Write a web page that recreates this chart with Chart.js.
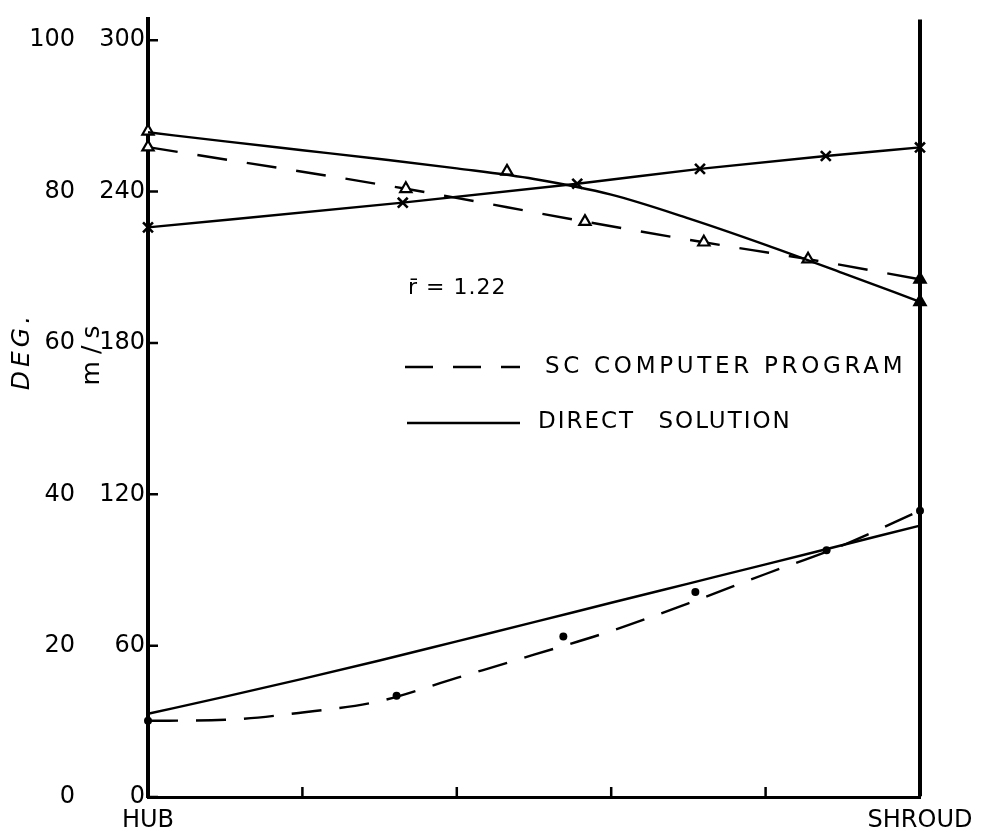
<!DOCTYPE html>
<html><head><meta charset="utf-8">
<script src="https://cdn.jsdelivr.net/npm/chart.js@4.4.0/dist/chart.umd.min.js"></script>
<style>html,body{margin:0;padding:0;background:#fff;}#wrap{width:986px;height:838px;position:relative;}</style>
</head><body><div id="wrap"><canvas id="c"></canvas></div>
<script>
// ---- data (x = fraction of span from HUB to SHROUD, y in m/s; DEG = m/s / 3) ----
const xTicks = [0, 0.2, 0.4, 0.6, 0.8, 1];
const xTickLabels = ['HUB', '', '', '', '', 'SHROUD'];
const msTicks = [0, 60, 120, 180, 240, 300];
const degTicks = [0, 20, 40, 60, 80, 100];

const curveX = [0, 0.1, 0.2, 0.3, 0.4, 0.5, 0.6, 0.7, 0.8, 0.9, 1];
const dsTop = [263.5, 259.9, 256.4, 252.9, 249.2, 245.0, 238.8, 229.4, 218.9, 207.7, 196.3];
const dsBottom = [33.0, 39.8, 46.8, 54.1, 61.7, 69.3, 77.0, 84.6, 92.2, 99.9, 107.6];
const scBottom = [30.2, 30.6, 33.5, 38.0, 47.2, 56.4, 65.8, 76.8, 88.4, 99.8, 113.5];

const scTopX = [0, 0.334, 0.566, 0.72, 0.855, 1];
const scTop = [257.6, 241.1, 228.1, 219.9, 213.2, 205.2];

const dsTriX = [0, 0.465, 1];
const dsTri = [263.9, 248.0, 196.3];

const crossX = [0, 0.33, 0.556, 0.715, 0.878, 1];
const crossY = [225.8, 235.6, 243.1, 249.0, 254.1, 257.5];

const dotX = [0, 0.322, 0.538, 0.709, 0.879, 1];
const dotY = [30.2, 40.1, 63.6, 81.3, 97.8, 113.5];

const rBarLabel = 'r\u0304 = 1.22';
const legendDashed = 'SC COMPUTER PROGRAM';
const legendSolid = 'DIRECT SOLUTION';
const degTitle = 'DEG.';
const msTitle = 'm/s';

// ---- chart ----
const FONT = '"DejaVu Sans", sans-serif';
const MS_MAX = 308.25;
const pts = (xs, ys) => xs.map((x, i) => ({x, y: ys[i]}));

const overlay = {
  id: 'overlay',
  afterDatasetsDraw(chart) {
    const ctx = chart.ctx, a = chart.chartArea;
    const ys = chart.scales.y, xs = chart.scales.x;
    ctx.save();
    ctx.strokeStyle = '#000';
    ctx.fillStyle = '#000';
    // inward tick marks
    ctx.lineWidth = 2.5;
    ctx.beginPath();
    msTicks.forEach(v => { const py = ys.getPixelForValue(v); ctx.moveTo(a.left, py); ctx.lineTo(a.left + 10, py); });
    xTicks.forEach(v => { const px = xs.getPixelForValue(v); ctx.moveTo(px, a.bottom); ctx.lineTo(px, a.bottom - 10); });
    ctx.stroke();
    // annotation
    ctx.textBaseline = 'middle';
    ctx.textAlign = 'left';
    ctx.font = '22px ' + FONT;
    ctx.letterSpacing = '1px';
    ctx.fillText(rBarLabel, 408, 288);
    // legend
    ctx.lineWidth = 2.4;
    ctx.setLineDash([28, 20]);
    ctx.beginPath(); ctx.moveTo(405, 367); ctx.lineTo(520, 367); ctx.stroke();
    ctx.setLineDash([]);
    ctx.beginPath(); ctx.moveTo(407, 423); ctx.lineTo(520, 423); ctx.stroke();
    ctx.font = '23px ' + FONT;
    ctx.letterSpacing = '3.7px';
    ctx.fillText(legendDashed, 545, 367);
    ctx.letterSpacing = '2px';
    ctx.wordSpacing = '14px';
    ctx.fillText(legendSolid, 538, 422);
    ctx.wordSpacing = '0px';
    // axis titles
    ctx.textAlign = 'center';
    ctx.save();
    ctx.translate(22, 351); ctx.rotate(-Math.PI / 2);
    ctx.font = 'italic 25px ' + FONT;
    ctx.letterSpacing = '4px';
    ctx.fillText(degTitle, 0, 0);
    ctx.restore();
    ctx.save();
    ctx.translate(92, 352); ctx.rotate(-Math.PI / 2);
    ctx.font = '25px ' + FONT;
    ctx.letterSpacing = '7px';
    ctx.fillText(msTitle, 0, 0);
    ctx.restore();
    ctx.letterSpacing = '0px';
    ctx.restore();
  }
};

const base = {borderColor: '#000', backgroundColor: '#000', borderWidth: 2.4, fill: false, clip: false};

new Chart(document.getElementById('c'), {
  type: 'line',
  data: {
    datasets: [
      Object.assign({}, base, {label: 'DS top', data: pts(curveX, dsTop), pointRadius: 0, cubicInterpolationMode: 'monotone'}),
      Object.assign({}, base, {label: 'SC top', data: pts(scTopX, scTop), borderDash: [30, 20], cubicInterpolationMode: 'monotone',
        pointStyle: 'triangle', pointRadius: 6.5, pointBorderWidth: 2.2,
        pointBackgroundColor: c => c.dataIndex === scTopX.length - 1 ? '#000' : '#fff'}),
      Object.assign({}, base, {label: 'DS top points', data: pts(dsTriX, dsTri), showLine: false,
        pointStyle: 'triangle', pointRadius: 6.5, pointBorderWidth: 2.2,
        pointBackgroundColor: c => c.dataIndex === dsTriX.length - 1 ? '#000' : '#fff'}),
      Object.assign({}, base, {label: 'DS cross', data: pts(crossX, crossY), cubicInterpolationMode: 'monotone',
        pointStyle: 'crossRot', pointRadius: 7, pointBorderWidth: 2.6}),
      Object.assign({}, base, {label: 'DS bottom', data: pts(curveX, dsBottom), pointRadius: 0, cubicInterpolationMode: 'monotone'}),
      Object.assign({}, base, {label: 'SC bottom', data: pts(curveX, scBottom), pointRadius: 0, borderDash: [30, 18], cubicInterpolationMode: 'monotone'}),
      Object.assign({}, base, {label: 'SC bottom points', data: pts(dotX, dotY), showLine: false,
        pointStyle: 'circle', pointRadius: 4, pointBorderWidth: 0})
    ]
  },
  options: {
    responsive: true, maintainAspectRatio: false, animation: false,
    layout: {padding: {left: 0, right: 66, top: 12, bottom: 0}},
    plugins: {legend: {display: false}, tooltip: {enabled: false}},
    scales: {
      x: {
        type: 'linear', min: 0, max: 1,
        afterBuildTicks: s => { s.ticks = xTicks.map(v => ({value: v})); },
        afterFit: s => { s.height = 41; },
        ticks: {autoSkip: false, maxRotation: 0, padding: 9, color: '#000',
          font: {family: FONT, size: 24},
          callback: (v, i) => xTickLabels[i]},
        border: {display: true, color: '#000', width: 3},
        grid: {drawTicks: false, drawOnChartArea: true,
          color: c => (c.tick && c.tick.value === 1) ? '#000' : 'rgba(0,0,0,0)',
          lineWidth: c => (c.tick && c.tick.value === 1) ? 4 : 1}
      },
      y: {
        type: 'linear', position: 'left', weight: 0, min: 0, max: MS_MAX,
        afterBuildTicks: s => { s.ticks = msTicks.map(v => ({value: v})); },
        afterFit: s => { s.width = 68; },
        ticks: {padding: 3, color: '#000', font: {family: FONT, size: 24}, callback: v => String(v)},
        border: {display: true, color: '#000', width: 4},
        grid: {drawTicks: false, drawOnChartArea: false, color: 'rgba(0,0,0,0)'}
      },
      yDeg: {
        type: 'linear', position: 'left', weight: 1, min: 0, max: MS_MAX / 3,
        afterBuildTicks: s => { s.ticks = degTicks.map(v => ({value: v})); },
        afterFit: s => { s.width = 80; },
        ticks: {padding: 5, color: '#000', font: {family: FONT, size: 24}, callback: v => String(v)},
        border: {display: false},
        grid: {drawTicks: false, drawOnChartArea: false, color: 'rgba(0,0,0,0)'}
      }
    }
  },
  plugins: [overlay]
});
</script>
</body></html>
